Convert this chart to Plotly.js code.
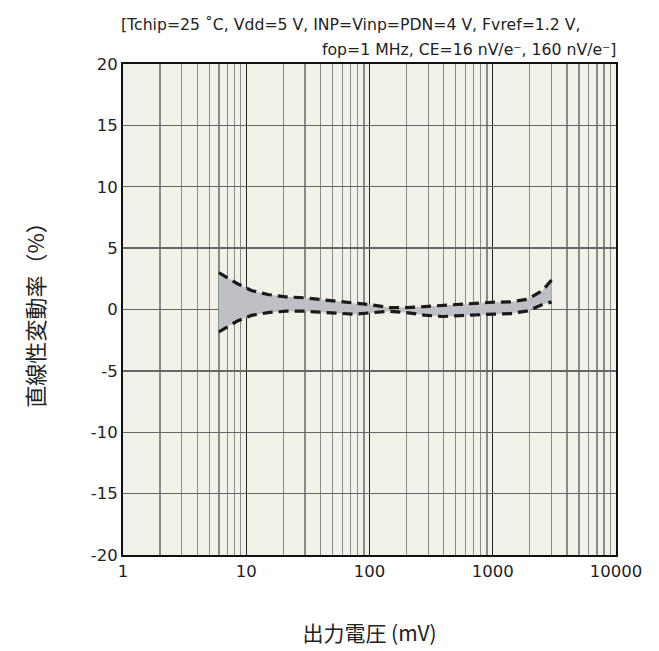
<!DOCTYPE html>
<html><head><meta charset="utf-8">
<script src="https://cdn.plot.ly/plotly-3.0.1.min.js"></script>
<style>html,body{margin:0;padding:0;background:#fff;}</style>
</head><body>
<div id="chart" style="width:659px;height:651px;"></div>
<script>
const outputMV = [6, 8.5, 11, 15, 21, 30, 40, 55, 75, 100, 145, 200, 280, 390, 530, 730, 1000, 1400, 1920, 2550, 3000];
const upperPct = [3.0, 2.1, 1.55, 1.22, 1.03, 0.95, 0.81, 0.68, 0.49, 0.40, 0.16, 0.16, 0.24, 0.33, 0.43, 0.51, 0.59, 0.62, 0.84, 1.57, 2.4];
const lowerPct = [-1.82, -0.93, -0.48, -0.25, -0.14, -0.14, -0.22, -0.33, -0.38, -0.28, -0.14, -0.25, -0.46, -0.57, -0.49, -0.41, -0.38, -0.33, -0.11, 0.41, 0.62];
const xTickVals = [1, 10, 100, 1000, 10000];
const xTickText = ['1', '10', '100', '1000', '10000'];
const yTickVals = [-20, -15, -10, -5, 0, 5, 10, 15, 20];
const yTickText = ['-20', '-15', '-10', '-5', '0', '5', '10', '15', '20'];
const titleLine1 = '[Tchip=25 ˚C, Vdd=5 V, INP=Vinp=PDN=4 V, Fvref=1.2 V,';
const titleLine2 = 'fop=1 MHz, CE=16 nV/e⁻, 160 nV/e⁻]';

const font = 'DejaVu Sans, Verdana, sans-serif';
const cjk = 'Noto Sans CJK JP, DejaVu Sans, sans-serif';

const traces = [
  {x: outputMV, y: lowerPct, mode: 'lines', line: {width: 0, color: 'rgba(0,0,0,0)'}, hoverinfo: 'skip', showlegend: false},
  {x: outputMV, y: upperPct, mode: 'lines', fill: 'tonexty', fillcolor: '#bfc0c5', line: {width: 0, color: 'rgba(0,0,0,0)'}, hoverinfo: 'skip', showlegend: false},
  {x: outputMV, y: upperPct, mode: 'lines', line: {color: '#1a1a1a', width: 3.2, dash: '10px,6px'}, showlegend: false},
  {x: outputMV, y: lowerPct, mode: 'lines', line: {color: '#1a1a1a', width: 3.2, dash: '10px,6px'}, showlegend: false}
];

const layout = {
  width: 659, height: 651,
  margin: {l: 123, r: 43, t: 64, b: 96},
  paper_bgcolor: '#ffffff',
  plot_bgcolor: '#f2f1e8',
  font: {family: font, size: 16, color: '#222'},
  showlegend: false,
  xaxis: {
    type: 'log', range: [0, 4],
    tickvals: xTickVals, ticktext: xTickText,
    showgrid: true, gridcolor: '#222', gridwidth: 1.3,
    minor: {dtick: 'D1', showgrid: true, gridcolor: '#8a8a8a', gridwidth: 1.3, ticks: ''},
    showline: true, linecolor: '#111', linewidth: 2, mirror: true,
    ticks: '', zeroline: false,
    tickfont: {family: font, size: 16.5, color: '#222'},
    title: {text: '出力電圧 (mV)', font: {family: cjk, size: 21, color: '#222'}, standoff: 47}
  },
  yaxis: {
    range: [-20, 20], tickvals: yTickVals, ticktext: yTickText,
    showgrid: true, gridcolor: '#666', gridwidth: 1.3,
    showline: true, linecolor: '#111', linewidth: 2, mirror: true,
    ticks: '', zeroline: false,
    tickfont: {family: font, size: 16.5, color: '#222'},
    title: {text: '直線性変動率（%）', font: {family: cjk, size: 22, color: '#222'}, standoff: 40}
  },
  annotations: [
    {xref: 'paper', yref: 'paper', x: 0, y: 1, xanchor: 'left', yanchor: 'middle', yshift: 40, xshift: -4,
     showarrow: false, text: titleLine1, font: {family: font, size: 15.7, color: '#222'}},
    {xref: 'paper', yref: 'paper', x: 1, y: 1, xanchor: 'right', yanchor: 'middle', yshift: 15, xshift: 3,
     showarrow: false, text: titleLine2, font: {family: font, size: 15.7, color: '#222'}}
  ]
};

Plotly.newPlot('chart', traces, layout, {displayModeBar: false, staticPlot: true});
</script>
</body></html>
